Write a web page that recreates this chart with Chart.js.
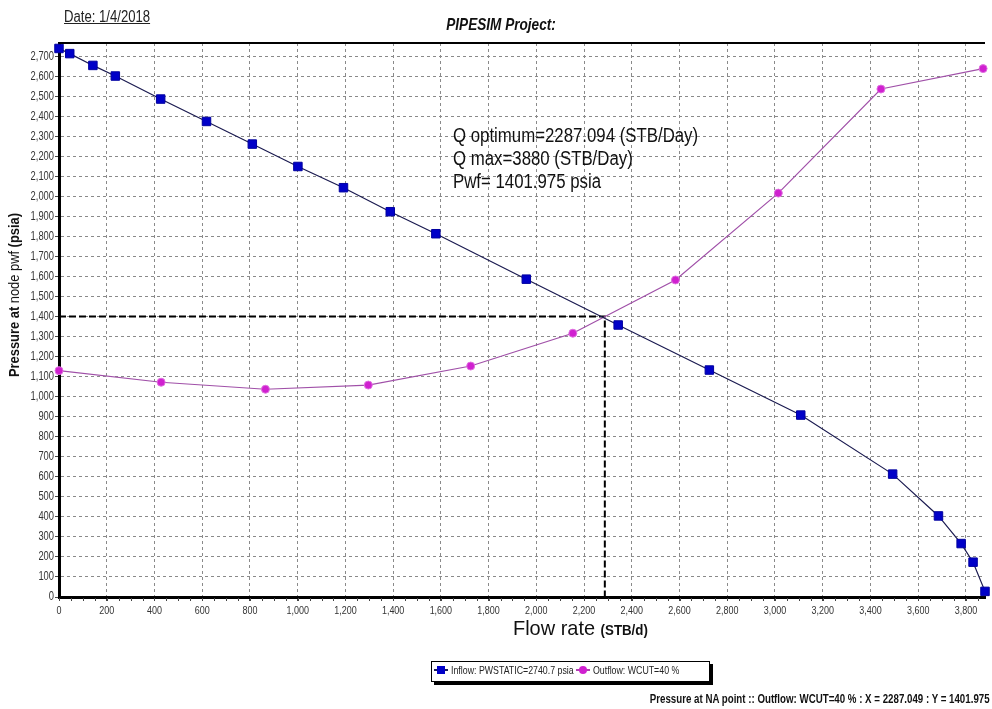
<!DOCTYPE html>
<html>
<head>
<meta charset="utf-8">
<script src="https://cdn.jsdelivr.net/npm/chart.js@4.4.1/dist/chart.umd.min.js"></script>
<style>
  html,body{margin:0;padding:0;background:#fff;}
  #wrap{position:relative;width:992px;height:709px;overflow:hidden;background:#fff;}
  #c{position:absolute;left:0;top:0;}
  .t{position:absolute;white-space:nowrap;color:#111;font-family:"Liberation Sans",Arial,sans-serif;}
  .sl{transform-origin:0 0;}
  .sr{transform-origin:100% 0;}
  #date{left:64px;top:8px;font-size:16px;text-decoration:underline;color:#222;transform:scaleX(0.82);}
  #title{left:501px;top:15px;font-size:17px;font-weight:bold;font-style:italic;transform:translateX(-50%) scaleX(0.8);}
  #ann{left:453px;top:124px;font-size:20px;line-height:23px;color:#111;transform:scaleX(0.84);}
  #xt{left:513px;top:616px;font-size:21px;color:#111;transform:scaleX(0.95);}
  #xt b{font-size:14px;}
  #yt{left:14px;top:295px;transform:translate(-50%,-50%) rotate(-90deg) scaleX(0.92);font-size:14px;color:#111;}
  #legend{position:absolute;left:431px;top:661px;width:277px;height:19px;border:1px solid #000;box-shadow:3px 3px 0 #000;background:#fff;}
  .ic{position:absolute;width:14px;height:10px;top:665px;}
  .ic .ln{position:absolute;left:0;top:4px;width:14px;height:2px;}
  .ic .mk{position:absolute;left:3px;top:1px;width:8px;height:8px;}
  .lt{top:664px;font-size:11px;color:#222;transform:scaleX(0.8);}
  #foot{right:2px;top:692px;font-size:12px;font-weight:bold;color:#111;transform:scaleX(0.81);}
</style>
</head>
<body>
<div id="wrap">
  <canvas id="c" width="992" height="709"></canvas>
  <div class="t sl" id="date">Date: 1/4/2018</div>
  <div class="t" id="title">PIPESIM Project:</div>
  <div class="t sl" id="ann">Q optimum=2287.094 (STB/Day)<br>Q max=3880 (STB/Day)<br>Pwf= 1401.975 psia</div>
  <div class="t sl" id="xt">Flow rate <b>(STB/d)</b></div>
  <div class="t" id="yt"><b>Pressure at</b> node pwf <b>(psia)</b></div>
  <div id="legend"></div>
  <span class="ic" style="left:434px"><span class="ln" style="background:#1a1a60"></span><span class="mk" style="background:#0000c8"></span></span>
  <div class="t sl lt" style="left:451px">Inflow: PWSTATIC=2740.7 psia</div>
  <span class="ic" style="left:576px"><span class="ln" style="background:#b040b0"></span><span class="mk" style="background:#d020d0;border-radius:50%"></span></span>
  <div class="t sl lt" style="left:593px">Outflow: WCUT=40 %</div>
  <div class="t sr" id="foot">Pressure at NA point :: Outflow: WCUT=40 % : X = 2287.049 : Y = 1401.975</div>
</div>
<script>
// ---- data ----
const xMin = 0, xMax = 3880, xStep = 200;
const yMin = 0, yMax = 2768, yStep = 100;
const inflowQ = [0, 45, 142, 236, 426, 618, 810, 1001, 1192, 1388, 1579, 1958, 2343, 2725, 3108, 3493, 3685, 3780, 3830, 3880];
const inflowP = [2740.7, 2715, 2656, 2603, 2488, 2376, 2263, 2151, 2045, 1925, 1815, 1588, 1359, 1134, 909, 614, 405, 267, 174, 28];
const outflowQ = [0, 428, 865, 1296, 1725, 2153, 2583, 3014, 3444, 3872];
const outflowP = [1131, 1073, 1038, 1059, 1154, 1318, 1584, 2018, 2538, 2640];
const opQ = 2287.049, opP = 1401.975;
const minorStep = 50;

const pts = (xs, ys) => xs.map((x, i) => ({x: x, y: ys[i]}));
const fmt = v => v.toLocaleString('en-US');

const frame = {
  id: 'frame',
  afterDraw(chart) {
    const ctx = chart.ctx, a = chart.chartArea, xs = chart.scales.x, ys = chart.scales.y;
    ctx.save();
    ctx.strokeStyle = '#000';
    ctx.lineWidth = 2;
    ctx.beginPath();
    ctx.moveTo(a.left, a.top);
    ctx.lineTo(a.right, a.top);
    ctx.stroke();
    ctx.lineWidth = 1;
    ctx.strokeStyle = '#444';
    ctx.beginPath();
    for (let v = xMin; v <= xMax; v += minorStep) {
      const px = Math.round(xs.getPixelForValue(v)) + 0.5;
      ctx.moveTo(px, a.bottom + 1);
      ctx.lineTo(px, a.bottom + 4);
    }
    ctx.stroke();
    // tick labels (condensed)
    ctx.fillStyle = '#333';
    ctx.font = '12px "Liberation Sans", Arial, sans-serif';
    ctx.textAlign = 'right';
    ctx.textBaseline = 'middle';
    ys.ticks.forEach(t => {
      const py = ys.getPixelForValue(t.value);
      ctx.save();
      ctx.translate(a.left - 5, py);
      ctx.scale(0.78, 1);
      ctx.fillText(fmt(t.value), 0, 0);
      ctx.restore();
    });
    ctx.font = '11.5px "Liberation Sans", Arial, sans-serif';
    ctx.textAlign = 'center';
    xs.ticks.forEach(t => {
      const px = xs.getPixelForValue(t.value);
      ctx.save();
      ctx.translate(px, a.bottom + 14);
      ctx.scale(0.78, 1);
      ctx.fillText(fmt(t.value), 0, 0);
      ctx.restore();
    });
    ctx.restore();
  }
};

new Chart(document.getElementById('c'), {
  type: 'scatter',
  data: {
    datasets: [
      {
        label: 'Inflow: PWSTATIC=2740.7 psia',
        data: pts(inflowQ, inflowP),
        showLine: true,
        borderColor: '#1a1a50',
        borderWidth: 1.2,
        pointStyle: 'rect',
        pointRadius: 6,
        pointBackgroundColor: '#0000c8',
        pointBorderColor: '#0000a0',
        pointBorderWidth: 1,
        clip: false,
        order: 1
      },
      {
        label: 'Outflow: WCUT=40 %',
        data: pts(outflowQ, outflowP),
        showLine: true,
        borderColor: '#a050a8',
        borderWidth: 1.2,
        pointStyle: 'circle',
        pointRadius: 4,
        pointBackgroundColor: '#d020d0',
        pointBorderColor: '#e070e0',
        pointBorderWidth: 1,
        clip: false,
        order: 2
      },
      {
        label: 'op',
        data: [{x: xMin, y: opP}, {x: opQ, y: opP}, {x: opQ, y: yMin}],
        showLine: true,
        borderColor: '#000',
        borderWidth: 2,
        borderDash: [7, 3],
        pointRadius: 0,
        order: 3
      }
    ]
  },
  options: {
    responsive: false,
    animation: false,
    devicePixelRatio: 1,
    layout: {padding: {top: 43, right: 2, left: 0, bottom: 0}},
    plugins: {legend: {display: false}, tooltip: {enabled: false}, title: {display: false}},
    scales: {
      x: {
        type: 'linear', min: xMin, max: xMax,
        afterFit(s) { s.height = 112; },
        ticks: {display: false, stepSize: xStep, includeBounds: false, autoSkip: false, maxRotation: 0},
        grid: {color: '#8a8a8a', lineWidth: 1, tickLength: 4, tickColor: '#444'},
        border: {display: true, color: '#000', width: 3, dash: [3, 3]}
      },
      y: {
        type: 'linear', min: yMin, max: yMax,
        afterFit(s) { s.width = 59; },
        ticks: {display: false, stepSize: yStep, includeBounds: false, autoSkip: false},
        grid: {color: '#8a8a8a', lineWidth: 1, tickLength: 4, tickColor: '#444'},
        border: {display: true, color: '#000', width: 3, dash: [3, 3]}
      }
    }
  },
  plugins: [frame]
});
</script>
</body>
</html>
